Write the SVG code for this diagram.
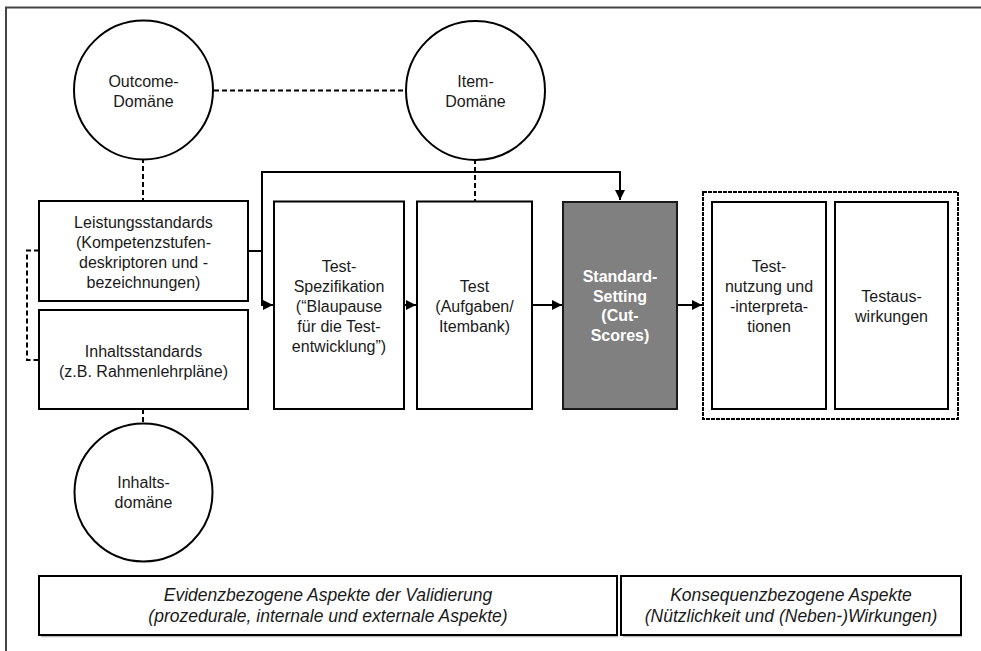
<svg xmlns="http://www.w3.org/2000/svg" width="981" height="651" viewBox="0 0 981 651">
<defs>
<marker id="ah" viewBox="0 0 10 10" refX="10" refY="5" markerWidth="5" markerHeight="5" orient="auto" markerUnits="strokeWidth">
<path d="M0,0 L10,5 L0,10 Z" fill="#000"/>
</marker>
<style>
text{font-family:"Liberation Sans",Arial,sans-serif;font-size:16px;fill:#1a1a1a;text-anchor:middle}
.box{fill:#fff;stroke:#000;stroke-width:2}
.circ{fill:#fff;stroke:#000;stroke-width:2}
.dash{fill:none;stroke:#000;stroke-width:2;stroke-dasharray:5 3}
.solid{fill:none;stroke:#000;stroke-width:2}
.it{font-style:italic;font-size:17.5px}
.bold{font-weight:bold;fill:#fff}
</style>
</defs>
<rect width="981" height="651" fill="#fff"/>
<g id="frame">
<path d="M6,651 V7.5 H981" fill="none" stroke="#444" stroke-width="2"/>
</g>
<g id="connectors">
<path class="dash" d="M214,90.5 H405"/>
<path class="dash" d="M143,158 V201"/>
<path class="dash" d="M475,159 V201"/>
<path class="dash" d="M143,409 V424"/>
<path class="dash" d="M39,250.5 H27 V360 H39"/>
<path class="solid" d="M248,251 H262 V172 H620 V200" marker-end="url(#ah)"/>
<path class="solid" d="M262,251 V305 H273" marker-end="url(#ah)"/>
<path class="solid" d="M404,305 H416" marker-end="url(#ah)"/>
<path class="solid" d="M532,305 H562" marker-end="url(#ah)"/>
<path class="solid" d="M677,305 H702" marker-end="url(#ah)"/>
</g>
<g id="outcome">
<circle class="circ" cx="143.5" cy="90" r="69.5"/>
<text x="143.5" y="87">Outcome-</text>
<text x="143.5" y="107">Domäne</text>
</g>
<g id="item">
<circle class="circ" cx="475.5" cy="90.5" r="69.5"/>
<text x="475.5" y="87">Item-</text>
<text x="475.5" y="107">Domäne</text>
</g>
<g id="inhaltsdomaene">
<circle class="circ" cx="143.5" cy="492.5" r="69"/>
<text x="143.5" y="488">Inhalts-</text>
<text x="143.5" y="508">domäne</text>
</g>
<g id="leistungsstandards">
<rect class="box" x="39" y="201" width="209" height="100"/>
<text x="143.5" y="228">Leistungsstandards</text>
<text x="143.5" y="248">(Kompetenzstufen-</text>
<text x="143.5" y="268">deskriptoren und -</text>
<text x="143.5" y="288">bezeichnungen)</text>
</g>
<g id="inhaltsstandards">
<rect class="box" x="39" y="310" width="209" height="99"/>
<text x="143.5" y="357">Inhaltsstandards</text>
<text x="143.5" y="377">(z.B. Rahmenlehrpläne)</text>
</g>
<g id="testspezifikation">
<rect class="box" x="274" y="201.5" width="130" height="207.5"/>
<text x="339" y="272">Test-</text>
<text x="339" y="292">Spezifikation</text>
<text x="339" y="312">(“Blaupause</text>
<text x="339" y="332">für die Test-</text>
<text x="339" y="352">entwicklung”)</text>
</g>
<g id="test">
<rect class="box" x="417" y="201.5" width="115" height="207.5"/>
<text x="474.5" y="292">Test</text>
<text x="474.5" y="312">(Aufgaben/</text>
<text x="474.5" y="332">Itembank)</text>
</g>
<g id="standardsetting">
<rect x="563" y="202" width="114" height="207" fill="#808080" stroke="#1a1a1a" stroke-width="2"/>
<text class="bold" x="620" y="282">Standard-</text>
<text class="bold" x="620" y="302">Setting</text>
<text class="bold" x="620" y="321">(Cut-</text>
<text class="bold" x="620" y="341">Scores)</text>
</g>
<g id="konsequenzgruppe">
<rect x="703" y="192" width="255" height="227" fill="none" stroke="#000" stroke-width="2" stroke-dasharray="4 1"/>
</g>
<g id="testnutzung">
<rect class="box" x="712" y="202" width="114" height="207"/>
<text x="769" y="272">Test-</text>
<text x="769" y="292">nutzung und</text>
<text x="769" y="312">-interpreta-</text>
<text x="769" y="332">tionen</text>
</g>
<g id="testauswirkungen">
<rect class="box" x="835" y="202" width="113" height="207"/>
<text x="891.5" y="302">Testaus-</text>
<text x="891.5" y="322">wirkungen</text>
</g>
<g id="evidenz">
<path d="M41,636.5 H618" stroke="#bbb" stroke-width="1.5"/>
<rect class="box" x="39" y="576" width="578" height="59"/>
<text class="it" x="328" y="601">Evidenzbezogene Aspekte der Validierung</text>
<text class="it" x="328" y="622">(prozedurale, internale und externale Aspekte)</text>
</g>
<g id="konsequenz">
<path d="M623,636.5 H962" stroke="#bbb" stroke-width="1.5"/>
<rect class="box" x="621" y="576" width="340" height="59"/>
<text class="it" x="791" y="601">Konsequenzbezogene Aspekte</text>
<text class="it" x="791" y="622">(Nützlichkeit und (Neben-)Wirkungen)</text>
</g>
</svg>
